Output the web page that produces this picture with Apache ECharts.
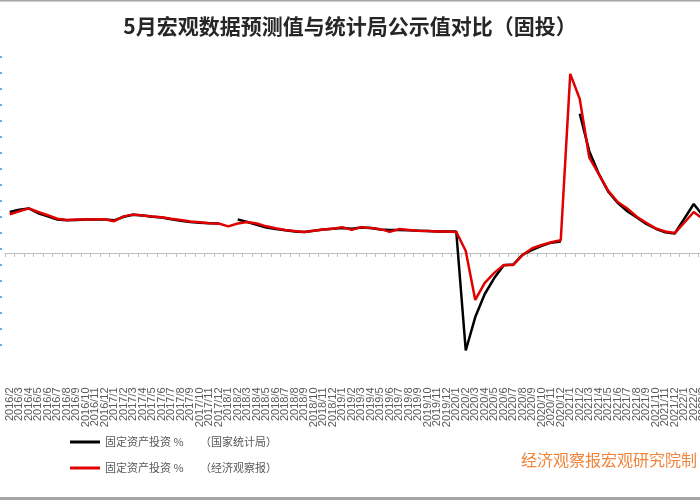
<!DOCTYPE html>
<html>
<head>
<meta charset="utf-8">
<script src="https://cdn.jsdelivr.net/npm/echarts@6/dist/echarts.min.js"></script>
<style>
html,body{margin:0;padding:0;background:#fff;}
#chart{width:700px;height:500px;}
</style>
</head>
<body>
<div id="chart"></div>
<script>
var categories = [
  "2016/2","2016/3","2016/4","2016/5","2016/6","2016/7","2016/8","2016/9","2016/10","2016/11","2016/12",
  "2017/1","2017/2","2017/3","2017/4","2017/5","2017/6","2017/7","2017/8","2017/9","2017/10","2017/11","2017/12",
  "2018/1","2018/2","2018/3","2018/4","2018/5","2018/6","2018/7","2018/8","2018/9","2018/10","2018/11","2018/12",
  "2019/1","2019/2","2019/3","2019/4","2019/5","2019/6","2019/7","2019/8","2019/9","2019/10","2019/11","2019/12",
  "2020/1","2020/2","2020/3","2020/4","2020/5","2020/6","2020/7","2020/8","2020/9","2020/10","2020/11","2020/12",
  "2021/1","2021/2","2021/3","2021/4","2021/5","2021/6","2021/7","2021/8","2021/9","2021/10","2021/11","2021/12",
  "2022/1","2022/2","2022/3","2022/4","2022/5"
];

// 固定资产投资 % （国家统计局）
var nbsValues = [
  10.3,10.9,11.2,10.0,9.2,8.4,8.2,8.3,8.4,8.4,8.4,
  8.2,9.1,9.6,9.4,9.1,8.9,8.5,8.1,7.8,7.6,7.5,7.4,
  null,8.4,7.8,7.1,6.4,6.0,5.7,5.4,5.3,5.6,5.9,6.1,
  6.3,6.1,6.4,6.3,5.9,5.8,5.8,5.7,5.6,5.5,5.4,5.4,
  5.4,-24.5,-16.1,-10.3,-6.3,-3.1,-2.9,-0.4,0.8,1.8,2.6,2.9,
  null,35.0,25.6,19.9,15.4,12.6,10.5,8.9,7.3,6.1,5.2,4.9,
  8.6,12.3,9.3,6.8,null
];

// 固定资产投资 % （经济观察报）
var eeoValues = [
  9.7,10.5,11.2,10.3,9.5,8.6,8.3,8.4,8.4,8.5,8.5,
  8.0,9.2,9.7,9.4,9.2,9.0,8.6,8.3,7.9,7.7,7.5,7.4,
  6.7,7.4,7.8,7.4,6.7,6.2,5.8,5.5,5.3,5.6,5.9,6.1,
  6.5,5.8,6.5,6.3,6.0,5.3,6.0,5.8,5.6,5.5,5.4,5.4,
  5.3,0.5,-11.8,-7.5,-5.0,-3.0,-3.0,-0.5,1.2,2.0,2.7,3.2,
  45.0,38.7,24.0,19.8,15.6,12.8,11.2,9.1,7.6,6.2,5.4,5.0,
  7.6,10.3,8.5,7.0,6.0
];

var seriesNames = ["固定资产投资 %　　（国家统计局）", "固定资产投资 %　　（经济观察报）"];
var titleText = "5月宏观数据预测值与统计局公示值对比（固投）";
var sourceText = "经济观察报宏观研究院制";

var chart = echarts.init(document.getElementById('chart'), null, {renderer: 'canvas'});
var cjk = '"Noto Sans CJK SC", "Noto Sans", sans-serif';

chart.setOption({
  animation: false,
  backgroundColor: '#ffffff',
  title: {
    text: titleText,
    left: 'center',
    top: 11,
    textStyle: {fontSize: 21, fontWeight: 'bold', color: '#262626', fontFamily: cjk}
  },
  legend: {
    orient: 'vertical',
    left: 65,
    top: 430,
    icon: 'rect',
    itemWidth: 30,
    itemHeight: 3,
    itemGap: 12,
    textStyle: {fontSize: 11, color: '#595959', fontFamily: cjk, lineHeight: 14},
    data: seriesNames
  },
  grid: {left: 5, top: 54, width: 722, height: 318.4, containLabel: false, outerBoundsMode: 'none'},
  xAxis: {
    type: 'category',
    data: categories,
    boundaryGap: true,
    axisLine: {onZero: true, lineStyle: {color: '#bfbfbf', width: 1}},
    axisTick: {show: true, interval: 0, length: 4, lineStyle: {color: '#bfbfbf'}},
    axisLabel: {interval: 0, rotate: 90, margin: 15, fontSize: 11, lineHeight: 8, hideOverlap: false,
      color: '#595959', fontFamily: '"Liberation Sans", Arial, sans-serif'},
    splitLine: {show: false}
  },
  yAxis: {
    type: 'value',
    min: -30,
    max: 50,
    show: false,
    splitLine: {show: false}
  },
  series: [
    {
      name: seriesNames[0],
      type: 'line',
      data: nbsValues,
      symbol: 'none',
      connectNulls: false,
      lineStyle: {color: '#000000', width: 2.5},
      itemStyle: {color: '#000000'},
      z: 2
    },
    {
      name: seriesNames[1],
      type: 'line',
      data: eeoValues,
      symbol: 'none',
      connectNulls: false,
      lineStyle: {color: '#e00000', width: 2.5},
      itemStyle: {color: '#e00000'},
      z: 3
    }
  ],
  graphic: [
    {type: 'rect', shape: {x: 0, y: 0, width: 700, height: 1.5}, style: {fill: '#a6a6a6'}, silent: true},
    {type: 'rect', shape: {x: 0, y: 497, width: 700, height: 3}, style: {fill: '#a6a6a6'}, silent: true},
    {type: 'line', shape: {x1: 1, y1: 56, x2: 1, y2: 358}, style: {stroke: '#6fa8dc', lineWidth: 2, lineDash: [2, 14]}, silent: true},
    {type: 'text', left: 521, top: 452, style: {text: sourceText, fontSize: 16, fill: '#f0843c', fontFamily: cjk}, silent: true}
  ]
});
</script>
</body>
</html>
